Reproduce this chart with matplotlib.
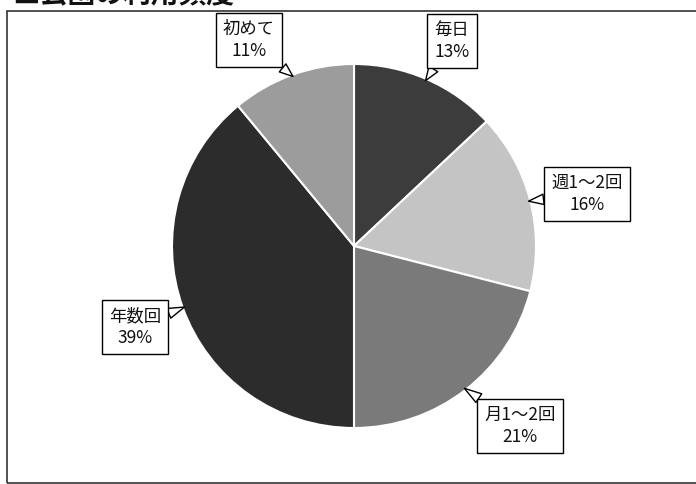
import numpy as np
import matplotlib
matplotlib.use("Agg")
import matplotlib.pyplot as plt
from matplotlib.patches import Rectangle

plt.rcParams['font.family'] = ['Noto Sans CJK JP', 'DejaVu Sans']

title = "■公園の利用頻度"
categories = ["毎日", "週1～2回", "月1～2回", "年数回", "初めて"]
values = [13, 16, 21, 39, 11]
colors = ["#3c3c3c", "#c4c4c4", "#7a7a7a", "#2c2c2c", "#9c9c9c"]
# label box centres in image pixel coordinates (layout)
label_pos = [(452, 41), (587, 194), (520, 426), (135, 327), (249, 40)]

W, H = 696, 484
fig = plt.figure(figsize=(W / 100, H / 100), dpi=100)
ax = fig.add_axes([0, 0, 1, 1])

cx, cy, R = 354, H - 246, 182
wedges, _ = ax.pie(values, colors=colors, startangle=90, counterclock=False,
                   center=(cx, cy), radius=R, frame=True,
                   wedgeprops=dict(edgecolor='white', linewidth=1.5))
ax.set_xlim(0, W)
ax.set_ylim(0, H)
ax.set_aspect('equal')
ax.axis('off')

# frame
ax.add_patch(Rectangle((7, 1), W - 7 + 5, H - 11 - 1, fill=False, ec="#333333", lw=1.2))

for w, cat, v, (px, py) in zip(wedges, categories, values, label_pos):
    ang = np.deg2rad((w.theta1 + w.theta2) / 2)
    tip = (cx + R * 0.99 * np.cos(ang), cy + R * 0.99 * np.sin(ang))
    ax.annotate(f"{cat}\n{v}%", xy=tip, xytext=(px, H - py), ha='center', va='center',
                fontsize=12.5, linespacing=1.3, color='#111111',
                bbox=dict(boxstyle='square,pad=0.42', fc='white', ec='black', lw=1.0),
                arrowprops=dict(arrowstyle='wedge,tail_width=0.6,shrink_factor=0.5',
                                fc='white', ec='black', lw=1.0, shrinkA=0, shrinkB=0))

ax.text(12, H + 5, title, fontsize=20, fontweight='bold', ha='left', va='center', color='#111111')

fig.savefig("out.png", dpi=100)
